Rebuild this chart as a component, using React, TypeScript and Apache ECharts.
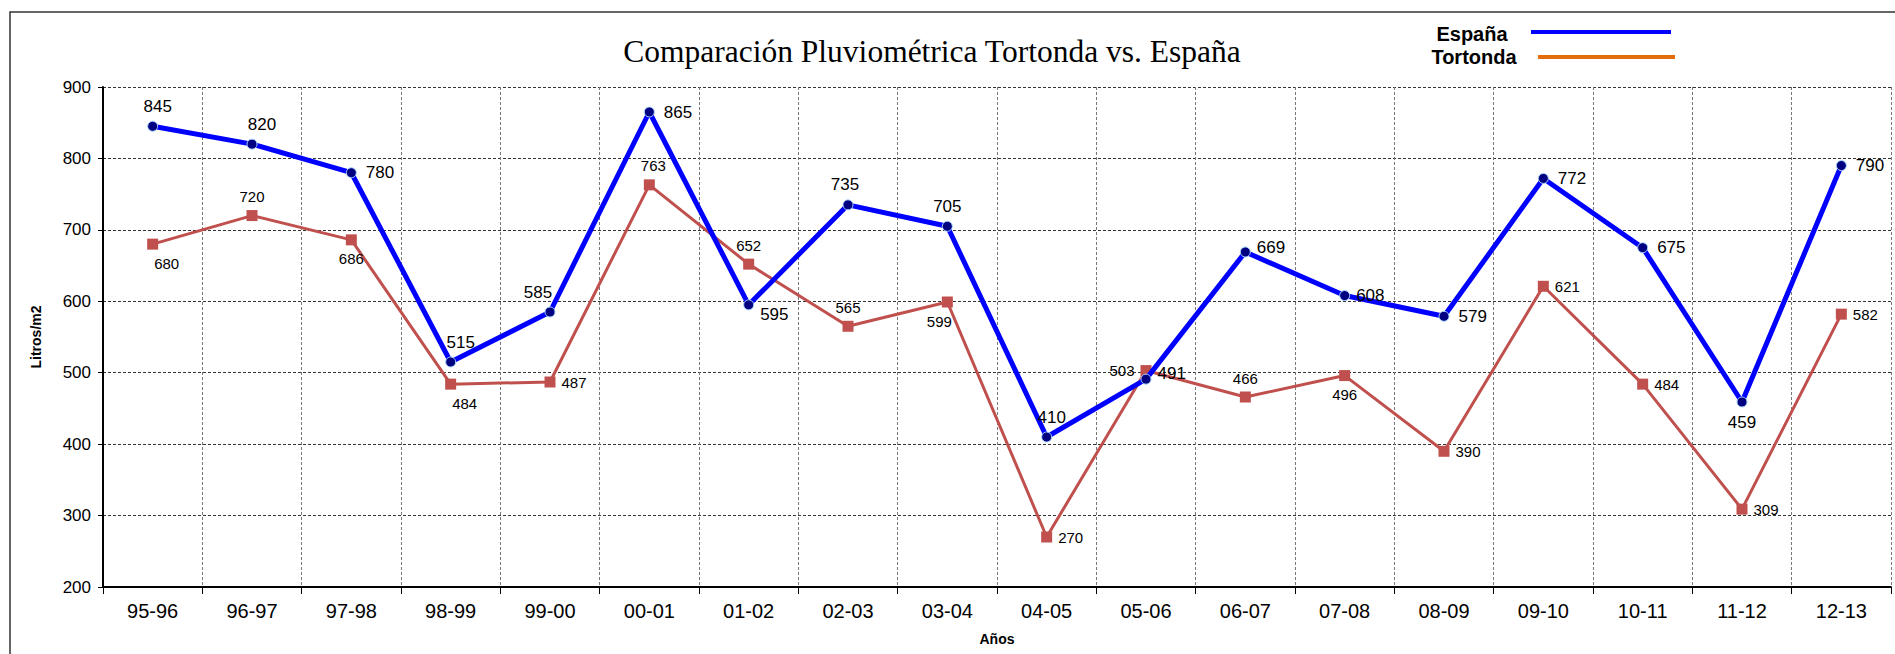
import React, { useEffect, useRef } from "react";
import * as echarts from "echarts";

const categories = ["95-96", "96-97", "97-98", "98-99", "99-00", "00-01", "01-02", "02-03", "03-04", "04-05", "05-06", "06-07", "07-08", "08-09", "09-10", "10-11", "11-12", "12-13"];
const espana = [845, 820, 780, 515, 585, 865, 595, 735, 705, 410, 491, 669, 608, 579, 772, 675, 459, 790];
const tortonda = [680, 720, 686, 484, 487, 763, 652, 565, 599, 270, 503, 466, 496, 390, 621, 484, 309, 582];
const yTicks = { min: 200, max: 900, interval: 100 };

// label placement (style only)
const espLabelPos: [string, number[]][] = [
  ["top", [5, 0]], ["top", [10, 0]], ["right", [3, 0]], ["top", [10, 0]], ["top", [-12, 0]],
  ["right", [3, 0]], ["right", [0, 10]], ["top", [-3, 0]], ["top", [0, 0]], ["top", [5, 0]],
  ["right", [0, -6]], ["right", [0, -5]], ["right", [0, 0]], ["right", [3, 0]], ["right", [3, 0]],
  ["right", [3, 0]], ["bottom", [0, 0]], ["right", [3, 0]],
];
const torLabelPos: [string, number[]][] = [
  ["bottom", [14, 0]], ["top", [0, 0]], ["bottom", [0, 0]], ["bottom", [14, 0]], ["right", [0, 0]],
  ["top", [4, 0]], ["top", [0, 0]], ["top", [0, 0]], ["bottom", [-8, 0]], ["right", [0, 0]],
  ["left", [0, 0]], ["top", [0, 0]], ["bottom", [0, 0]], ["right", [0, 0]], ["right", [0, 0]],
  ["right", [0, 0]], ["right", [0, 0]], ["right", [0, 0]],
];

const SANS = "'Liberation Sans', Arial, sans-serif";

export default function App() {
  const ref = useRef<HTMLDivElement>(null);
  useEffect(() => {
    if (!ref.current) return;
    const chart = echarts.init(ref.current, null, { renderer: "svg" });
    chart.setOption({
      animation: false,
      backgroundColor: "#ffffff",
      grid: { left: 103, right: 4, top: 87, bottom: 67, containLabel: false },
      xAxis: {
        type: "category",
        data: categories,
        boundaryGap: true,
        axisLine: { show: true, lineStyle: { color: "#000", width: 2 } },
        axisTick: { show: true, length: 7, lineStyle: { color: "#000", width: 1 } },
        axisLabel: { color: "#000", fontSize: 20, fontFamily: SANS, margin: 14 },
        splitLine: { show: true, lineStyle: { color: "#777", width: 1, type: [3, 2] } },
      },
      yAxis: {
        type: "value",
        min: yTicks.min,
        max: yTicks.max,
        interval: yTicks.interval,
        axisLine: { show: true, lineStyle: { color: "#000", width: 2 } },
        axisTick: { show: true, length: 5, lineStyle: { color: "#000", width: 1 } },
        axisLabel: { color: "#000", fontSize: 17, fontFamily: SANS, margin: 12 },
        splitLine: { show: true, lineStyle: { color: "#333", width: 1, type: [3, 2] } },
      },
      series: [
        {
          name: "Tortonda",
          type: "line",
          data: tortonda.map((v, i) => ({
            value: v,
            label: { position: torLabelPos[i][0], offset: torLabelPos[i][1] },
          })),
          symbol: "rect",
          symbolSize: 11,
          itemStyle: { color: "#C0504D" },
          lineStyle: { color: "#C0504D", width: 3 },
          label: { show: true, color: "#000", fontSize: 15, fontFamily: SANS, distance: 6 },
          z: 2,
        },
        {
          name: "España",
          type: "line",
          data: espana.map((v, i) => ({
            value: v,
            label: { position: espLabelPos[i][0], offset: espLabelPos[i][1] },
          })),
          symbol: "circle",
          symbolSize: 10,
          itemStyle: { color: "#000080", borderColor: "#A8D8FF", borderWidth: 1 },
          lineStyle: { color: "#0000FF", width: 5 },
          label: { show: true, color: "#000", fontSize: 17, fontFamily: SANS, distance: 6 },
          z: 3,
        },
      ],
      graphic: [
        {
          type: "rect",
          shape: { x: 10, y: 12, width: 1900, height: 700 },
          style: { fill: "none", stroke: "#333", lineWidth: 1.5 },
          silent: true,
        },
        {
          type: "text",
          x: 932,
          y: 51,
          style: {
            text: "Comparación Pluviométrica Tortonda vs. España",
            fill: "#000",
            font: "31.5px 'Liberation Serif', 'Times New Roman', serif",
            textAlign: "center",
            textVerticalAlign: "middle",
          },
        },
        {
          type: "text",
          x: 1472,
          y: 34,
          style: {
            text: "España",
            fill: "#000",
            font: "bold 20px 'Liberation Sans', Arial, sans-serif",
            textAlign: "center",
            textVerticalAlign: "middle",
          },
        },
        {
          type: "line",
          shape: { x1: 1531, y1: 32, x2: 1671, y2: 32 },
          style: { stroke: "#0000FF", lineWidth: 4 },
        },
        {
          type: "text",
          x: 1474,
          y: 57,
          style: {
            text: "Tortonda",
            fill: "#000",
            font: "bold 20px 'Liberation Sans', Arial, sans-serif",
            textAlign: "center",
            textVerticalAlign: "middle",
          },
        },
        {
          type: "line",
          shape: { x1: 1538, y1: 57, x2: 1675, y2: 57 },
          style: { stroke: "#E46C0A", lineWidth: 4 },
        },
        {
          type: "text",
          x: 36,
          y: 337,
          rotation: Math.PI / 2,
          style: {
            text: "Litros/m2",
            fill: "#000",
            font: "bold 14px 'Liberation Sans', Arial, sans-serif",
            textAlign: "center",
            textVerticalAlign: "middle",
          },
        },
        {
          type: "text",
          x: 997,
          y: 639,
          style: {
            text: "Años",
            fill: "#000",
            font: "bold 14px 'Liberation Sans', Arial, sans-serif",
            textAlign: "center",
            textVerticalAlign: "middle",
          },
        },
      ],
    });
    return () => chart.dispose();
  }, []);
  return (
    <div
      ref={ref}
      style={{ position: "fixed", left: 0, top: 0, width: 1895, height: 654 }}
    />
  );
}
